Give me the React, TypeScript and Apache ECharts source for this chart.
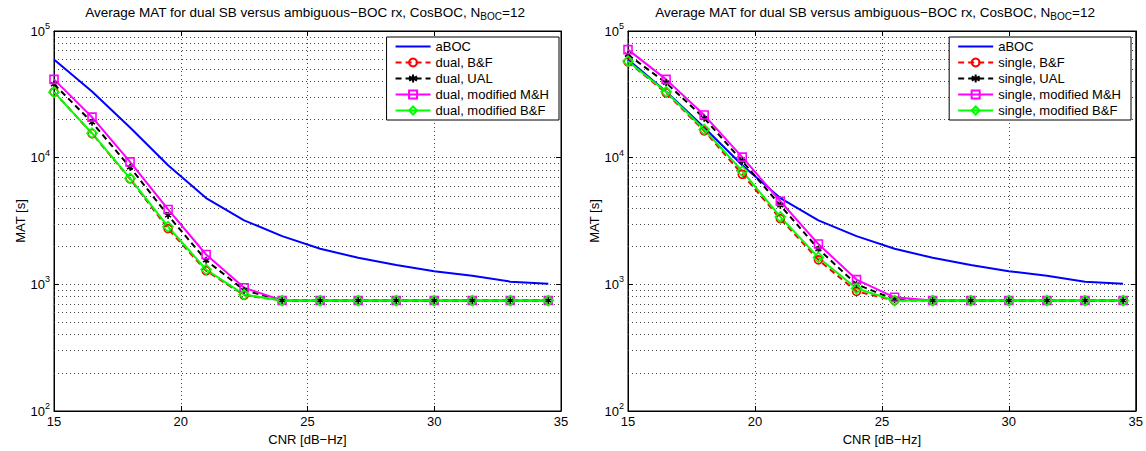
import { useEffect, useRef } from "react";
import * as echarts from "echarts";

const cnr = [15, 16.5, 18, 19.5, 21, 22.5, 24, 25.5, 27, 28.5, 30, 31.5, 33, 34.5];
const aBOC = [59600, 33300, 17300, 8700, 4800, 3200, 2400, 1910, 1620, 1420, 1270, 1170, 1050, 1010];

const dualBF = [33000, 15500, 6800, 2750, 1280, 820, 745, 745, 745, 745, 745, 745, 745, 745];
const dualUAL = [38000, 19000, 8400, 3500, 1550, 900, 745, 745, 745, 745, 745, 745, 745, 745];
const dualMH = [41500, 20900, 9260, 3900, 1720, 940, 745, 745, 745, 745, 745, 745, 745, 745];
const dualMBF = [32900, 15600, 6870, 2850, 1310, 830, 745, 745, 745, 745, 745, 745, 745, 745];

const singleBF = [57000, 32500, 16300, 7400, 3300, 1560, 880, 745, 745, 745, 745, 745, 745, 745];
const singleUAL = [65000, 39000, 20500, 9400, 4200, 1900, 1000, 760, 745, 745, 745, 745, 745, 745];
const singleMH = [71300, 41500, 21700, 10100, 4530, 2080, 1090, 790, 745, 745, 745, 745, 745, 745];
const singleMBF = [57800, 33100, 16700, 7820, 3410, 1630, 926, 745, 745, 745, 745, 745, 745, 745];

const minorGridValues = [
  200, 300, 400, 500, 600, 700, 800, 900,
  2000, 3000, 4000, 5000, 6000, 7000, 8000, 9000,
  20000, 30000, 40000, 50000, 60000, 70000, 80000, 90000,
];

const FONT = "'Liberation Sans', Arial, Helvetica, sans-serif";
const FS = 13;
const ASTERISK = "path://M5 0L5 10M0.67 2.5L9.33 7.5M0.67 7.5L9.33 2.5";

const titleText = "{t|Average MAT for dual SB versus ambiguous\u2212BOC rx, CosBOC, N}{s|BOC}{t|=12}";

function mkSeries(
  name: string,
  arr: number[],
  color: string,
  dashed: boolean,
  symbol: string,
  symbolSize: number,
  axisIdx: number,
  withGrid: boolean
) {
  const s: any = {
    type: "line",
    name,
    xAxisIndex: axisIdx * 2,
    yAxisIndex: axisIdx * 2,
    data: cnr.map((x, i) => [x, arr[i]]),
    symbol,
    symbolSize,
    symbolKeepAspect: true,
    showSymbol: symbol !== "none",
    lineStyle: { color, width: 2, type: dashed ? [6, 4] : "solid" },
    itemStyle: { color: "rgba(0,0,0,0)", borderColor: color, borderWidth: 1.6 },
    z: 3,
    silent: true,
  };
  if (symbol === "none") {
    s.itemStyle = { color };
  }
  if (withGrid) {
    s.markLine = {
      silent: true,
      z: 1,
      symbol: ["none", "none"],
      label: { show: false },
      lineStyle: { color: "#444", width: 1, type: [1, 3] },
      emphasis: { disabled: true },
      data: minorGridValues.map((v) => ({ yAxis: v })),
    };
  }
  return s;
}

function yLabel(v: number) {
  return `{b|10}{e|${Math.round(Math.log10(v))}}`;
}

export default function App() {
  const ref = useRef<HTMLDivElement>(null);
  useEffect(() => {
    const chart = echarts.init(ref.current!, null, { renderer: "svg" });
    const grids = [
      { left: 54, top: 31, width: 507, height: 386 },
      { left: 628, top: 31, width: 508, height: 386 },
    ];
    const xAxes: any[] = [];
    const yAxes: any[] = [];
    grids.forEach((_, gi) => {
      xAxes.push({
        type: "value",
        gridIndex: gi,
        min: 15,
        max: 35,
        interval: 5,
        name: "CNR [dB\u2212Hz]",
        nameLocation: "middle",
        nameGap: 22,
        nameTextStyle: { color: "#000", fontSize: FS, fontFamily: FONT },
        axisLine: { show: true, onZero: false, lineStyle: { color: "#000", width: 1 } },
        axisTick: { show: true, inside: true, length: 5, lineStyle: { color: "#000" } },
        axisLabel: { color: "#000", fontSize: FS, margin: 4, fontFamily: FONT },
        splitLine: { show: true, lineStyle: { color: "#444", width: 1, type: [1, 3] } },
      });
      xAxes.push({
        type: "value",
        gridIndex: gi,
        position: "top",
        min: 15,
        max: 35,
        interval: 5,
        axisLine: { show: true, onZero: false, lineStyle: { color: "#000", width: 1 } },
        axisTick: { show: true, inside: true, length: 5, lineStyle: { color: "#000" } },
        axisLabel: { show: false },
        splitLine: { show: false },
      });
      yAxes.push({
        type: "log",
        logBase: 10,
        gridIndex: gi,
        min: 100,
        max: 100000,
        name: "MAT [s]",
        nameLocation: "middle",
        nameGap: 27,
        nameTextStyle: { color: "#000", fontSize: FS, fontFamily: FONT },
        axisLine: { show: true, onZero: false, lineStyle: { color: "#000", width: 1 } },
        axisTick: { show: true, inside: true, length: 5, lineStyle: { color: "#000" } },
        axisLabel: {
          color: "#000",
          margin: 4,
          formatter: yLabel,
          rich: {
            b: { fontSize: FS, color: "#000", fontFamily: FONT },
            e: { fontSize: 9, color: "#000", fontFamily: FONT, padding: [0, 0, 10, 0] },
          },
        },
        splitLine: { show: true, lineStyle: { color: "#444", width: 1, type: [1, 3] } },
      });
      yAxes.push({
        type: "log",
        logBase: 10,
        gridIndex: gi,
        position: "right",
        min: 100,
        max: 100000,
        axisLine: { show: true, onZero: false, lineStyle: { color: "#000", width: 1 } },
        axisTick: { show: true, inside: true, length: 5, lineStyle: { color: "#000" } },
        axisLabel: { show: false },
        splitLine: { show: false },
      });
    });

    const leftNames = ["aBOC", "dual, B&F", "dual, UAL", "dual, modified M&H", "dual, modified B&F"];
    const rightNames = ["aBOC", "single, B&F", "single, UAL", "single, modified M&H", "single, modified B&F"];

    const series = [
      mkSeries("aBOC", aBOC, "#0000ff", false, "none", 0, 0, true),
      mkSeries(leftNames[1], dualBF, "#ff0000", true, "circle", 8, 0, false),
      mkSeries(leftNames[2], dualUAL, "#000000", true, ASTERISK, 7, 0, false),
      mkSeries(leftNames[3], dualMH, "#ff00ff", false, "rect", 8, 0, false),
      mkSeries(leftNames[4], dualMBF, "#00ff00", false, "diamond", 10, 0, false),
      mkSeries("aBOC", aBOC, "#0000ff", false, "none", 0, 1, true),
      mkSeries(rightNames[1], singleBF, "#ff0000", true, "circle", 8, 1, false),
      mkSeries(rightNames[2], singleUAL, "#000000", true, ASTERISK, 7, 1, false),
      mkSeries(rightNames[3], singleMH, "#ff00ff", false, "rect", 8, 1, false),
      mkSeries(rightNames[4], singleMBF, "#00ff00", false, "diamond", 10, 1, false),
    ];

    const legendData = (names: string[]) =>
      names.map((n) =>
        n === "aBOC" ? { name: n, itemStyle: { color: "rgba(0,0,0,0)", borderWidth: 0, opacity: 0 } } : { name: n }
      );

    const legendBase = {
      orient: "vertical",
      top: 37,
      backgroundColor: "#fff",
      borderColor: "#000",
      borderWidth: 1,
      borderRadius: 0,
      padding: [3, 10, 3, 8],
      itemGap: 3,
      itemWidth: 35,
      itemHeight: 10,
      selectedMode: false,
      textStyle: { color: "#000", fontSize: FS, fontFamily: FONT },
    };

    const titleBase = {
      top: -2,
      textAlign: "center",
      text: titleText,
      textStyle: {
        rich: {
          t: { fontSize: 13.5, fontWeight: "normal", color: "#000", fontFamily: FONT },
          s: { fontSize: 10, fontWeight: "normal", color: "#000", fontFamily: FONT, padding: [8, 0, 0, 0] },
        },
      },
    };

    chart.setOption({
      animation: false,
      backgroundColor: "#fff",
      textStyle: { fontFamily: FONT },
      title: [
        { ...titleBase, left: 300 },
        { ...titleBase, left: 870 },
      ],
      legend: [
        { ...legendBase, right: 587, data: legendData(leftNames) },
        { ...legendBase, right: 15, data: legendData(rightNames) },
      ],
      grid: grids.map((g) => ({ ...g, show: true, borderColor: "#000", borderWidth: 1, backgroundColor: "#fff" })),
      xAxis: xAxes,
      yAxis: yAxes,
      series,
    });
    return () => chart.dispose();
  }, []);
  return (
    <div
      ref={ref}
      style={{ position: "fixed", left: 0, top: 0, width: 1146, height: 451, background: "#fff" }}
    />
  );
}
